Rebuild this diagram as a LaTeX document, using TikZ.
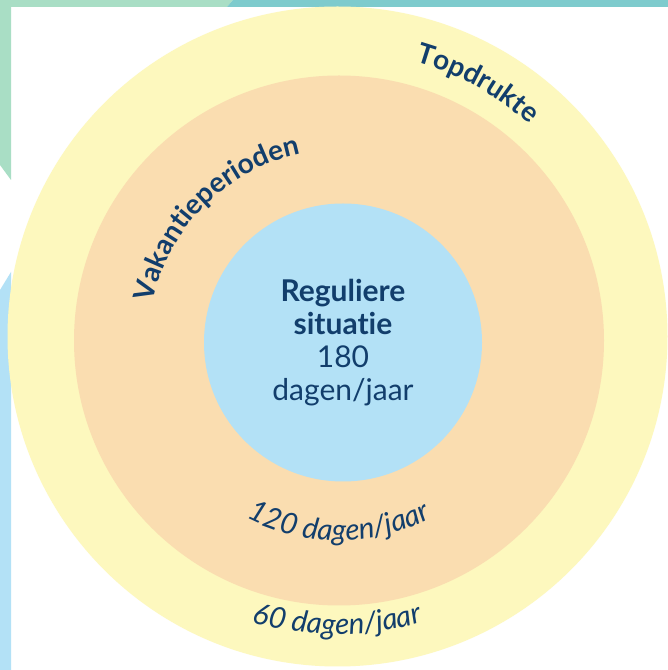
\documentclass[tikz,border=0pt]{standalone}
\usepackage{fontspec}
\setmainfont[Ligatures=NoCommon]{Lato}
\usepackage{tikz}
\usetikzlibrary{decorations.text}
\definecolor{navy}{HTML}{123E6C}
\definecolor{ringyellow}{HTML}{FDF8BE}
\definecolor{ringorange}{HTML}{FADDB0}
\definecolor{ringblue}{HTML}{B3E1F6}
\definecolor{bandgreen}{HTML}{A9DEC5}
\definecolor{bandteal}{HTML}{7ECBCD}
\newcommand{\ringfont}{\fontsize{28}{28}\selectfont\bfseries}
\newcommand{\daysfont}{\fontsize{29.5}{29.5}\selectfont\itshape}

\begin{document}
\begin{tikzpicture}[x=1pt,y=1pt,
  ring/.style={circle,inner sep=0pt,draw=none},
  ringlabel/.style={decorate,decoration={text along path,text align=center,text color=navy}}]
\useasboundingbox (0,0) rectangle (668,670);
\fill[white] (0,0) rectangle (668,670);
\fill[bandgreen] (0,670) -- (233,670) -- (227,663) -- (11,663) -- (11,490) -- (0,505) -- cycle;
\fill[bandteal] (233,670) -- (668,670) -- (668,663) -- (227,663) -- cycle;
\fill[ringblue] (0,0) -- (11,0) -- (11,398) -- (0,380) -- cycle;
\node[ring,fill=ringyellow,minimum size=660pt] (topdrukte) at (337.5,333.5) {};
\node[ring,fill=ringorange,minimum size=530pt] (vakantie) at (339,329.5) {};
\node[ring,fill=ringblue,minimum size=278pt,text=navy,align=center,
  font=\fontsize{30}{33}\selectfont] (regulier) at (343,327.5)
  {\textbf{Reguliere}\\\textbf{situatie}\\180\\dagen/jaar};
\path[ringlabel,decoration={text={|\ringfont|Vakantieperioden}}]
  ([shift={(181:190pt)}]vakantie.center) arc[start angle=181,end angle=89,radius=190pt];
\path[ringlabel,decoration={text={|\ringfont|Topdrukte}}]
  ([shift={(90:286pt)}]topdrukte.center) arc[start angle=90,end angle=32,radius=286pt];
\path[ringlabel,decoration={text={|\daysfont|120 dagen/jaar}}]
  ([shift={(222:200pt)}]vakantie.center) arc[start angle=222,end angle=318,radius=200pt];
\path[ringlabel,decoration={text={|\daysfont|60 dagen/jaar}}]
  ([shift={(238:298pt)}]topdrukte.center) arc[start angle=238,end angle=302,radius=298pt];
\end{tikzpicture}
\end{document}
